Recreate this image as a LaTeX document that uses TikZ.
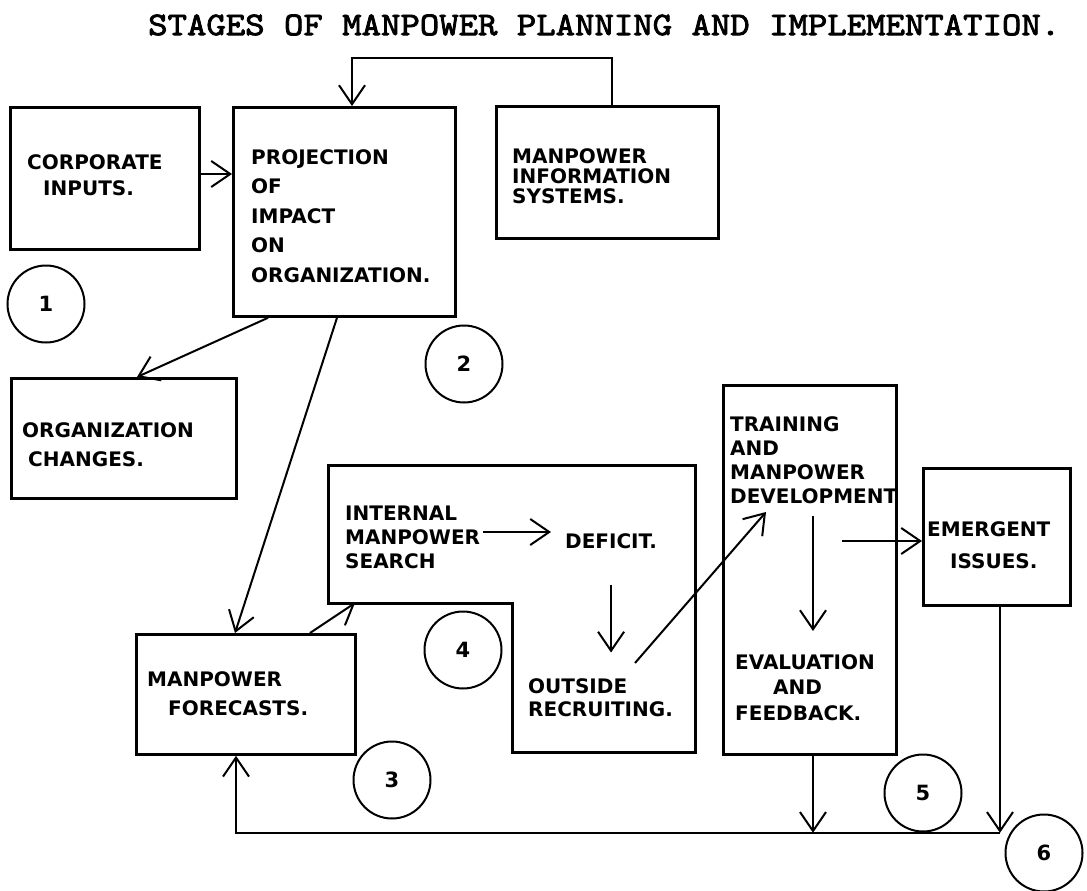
\documentclass[tikz,border=0pt]{standalone}
\usepackage{fontspec}
\usetikzlibrary{arrows.meta,calc}
\newfontfamily\handfont{DejaVu Sans}
\newfontfamily\titlefont{lmmono10-regular.otf}[FakeStretch=1.12,FakeBold=2.5]
\newcommand\handfs[1]{\handfont\bfseries\fontsize{20}{#1}\selectfont}
\tikzset{
  boxnode/.style={draw, rectangle, line width=2.8pt, anchor=north west, inner sep=0pt},
  stepbox/.style={draw, line width=3.3pt, line join=miter},
  txt/.style={anchor=north west, inner sep=0pt, align=left},
  arr/.style={line width=2pt, -{Straight Barb[length=19pt,width=26pt,line width=2pt]}},
  circ/.style={draw, circle, line width=2pt, minimum size=77pt, inner sep=0pt,
    font=\handfont\bfseries\fontsize{21}{21}\selectfont}
}
\begin{document}
\begin{tikzpicture}[x=1pt,y=-1pt]
\useasboundingbox (0,0) rectangle (1087,891);
% title
\node[anchor=west, inner sep=0pt, font=\titlefont\fontsize{33}{33}\selectfont] (title) at (148,25)
  {STAGES OF MANPOWER PLANNING AND IMPLEMENTATION.};
% boxes
\node[boxnode, minimum width=189pt, minimum height=142pt] (b1) at (9,106) {};
\node[boxnode, minimum width=222pt, minimum height=209pt] (b2) at (232,106) {};
\node[boxnode, minimum width=222pt, minimum height=132pt] (mis) at (495,105) {};
\node[boxnode, minimum width=225pt, minimum height=120pt] (org) at (10,377) {};
\node[boxnode, minimum width=219pt, minimum height=120pt] (mf) at (135,633) {};
\node[boxnode, minimum width=173pt, minimum height=369pt] (tr) at (722,384) {};
\node[boxnode, minimum width=147pt, minimum height=137pt] (emg) at (922,467) {};
% stepped box (stage 4)
\path[stepbox] (328.5,465.5) -- (695.5,465.5) -- (695.5,752.5) -- (512.5,752.5) -- (512.5,603.5) -- (328.5,603.5) -- cycle;
\coordinate (pbl) at (355,603);
% texts
\node[txt, font=\handfs{26}] (t1) at (27,154) {CORPORATE\\\hspace*{16pt}INPUTS.};
\node[txt, font=\handfs{29.5}] (t2) at (251,149) {PROJECTION\\OF\\IMPACT\\ON\\ORGANIZATION.};
\node[txt, font=\handfs{20}] (t3) at (512,148) {MANPOWER\\INFORMATION\\SYSTEMS.};
\node[txt, font=\handfs{29}] (t4) at (22,422) {ORGANIZATION\\\hspace*{6pt}CHANGES.};
\node[txt, font=\handfs{29}] (t5) at (147,671) {MANPOWER\\\hspace*{21pt}FORECASTS.};
\node[txt, font=\handfs{24}] (intl) at (345,506) {INTERNAL\\MANPOWER\\SEARCH};
\node[txt, font=\handfs{24}] (deficit) at (565,533) {DEFICIT.};
\node[txt, font=\handfs{23}] (outside) at (528,678) {OUTSIDE\\RECRUITING.};
\node[txt, font=\handfs{24}] (t9) at (730,416) {TRAINING\\AND\\MANPOWER\\DEVELOPMENT};
\node[txt, font=\handfs{25.5}] (t10) at (735,654) {EVALUATION\\\hspace*{38pt}AND\\FEEDBACK.};
\node[txt, font=\handfs{32}] (t11) at (927,521) {EMERGENT\\\hspace*{23pt}ISSUES.};
% circles
\node[circ] (c1) at (46,304) {1};
\node[circ] (c2) at (464,364) {2};
\node[circ] (c3) at (392,780) {3};
\node[circ] (c4) at (463,650) {4};
\node[circ] (c5) at (923,793) {5};
\node[circ] (c6) at (1044,853) {6};
% connectors
\coordinate (a1s) at ($(b1.north east)+(0,68)$);
\draw[arr] (a1s) -- (a1s -| b2.west);
\draw[arr] ($(mis.north west)+(117,0)$) -- ++(0,-47) -| ($(b2.north west)+(120,0)$);
\draw[arr] ($(b2.south west)+(36,0)$) -- ($(org.north west)+(127,0)$);
\draw[arr] ($(b2.south west)+(105,0)$) -- ($(mf.north west)+(100,0)$);
\draw[arr] ($(mf.north west)+(175,0)$) -- (pbl);
\coordinate (ia) at (483,532);
\coordinate (ib) at (551,532);
\draw[arr] (ia) -- (ib);
\draw[arr] ($(deficit.south)+(0,36)$) -- ++(0,68);
\coordinate (o1) at (635,663);
\coordinate (o2) at (766,512);
\draw[arr] (o1) -- (o2);
\coordinate (d1) at (813,516);
\draw[arr] (d1) -- ++(0,115);
\coordinate (e1) at (842,541);
\draw[arr] (e1) -- (e1 -| emg.west);
\draw[arr] ($(tr.south west)+(91,0)$) -- ++(0,77);
\draw[arr] ($(emg.south west)+(78,0)$) -- ++(0,226);
\draw[arr] ($(emg.south west)+(78,226)$) -| ($(mf.south west)+(101,0)$);
\end{tikzpicture}
\end{document}
